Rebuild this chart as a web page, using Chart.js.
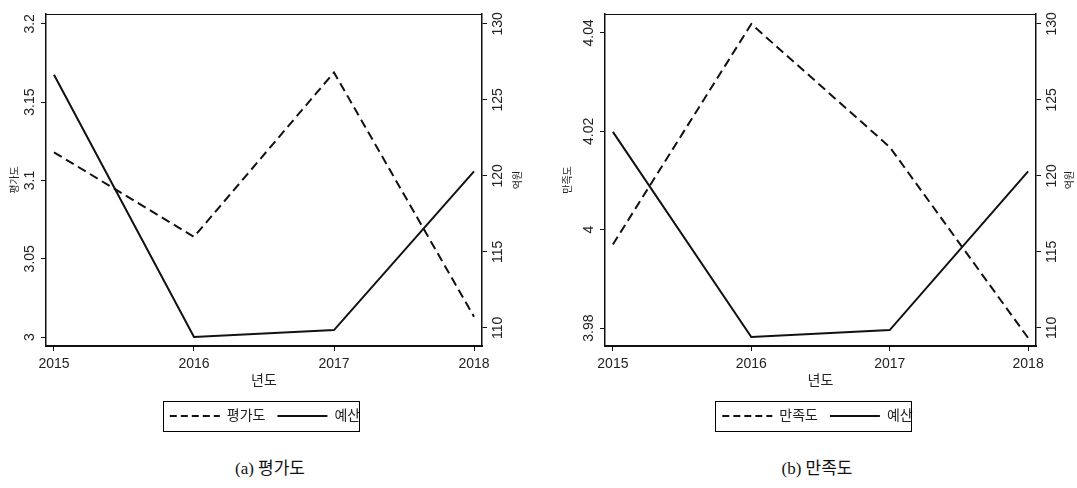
<!DOCTYPE html>
<html>
<head>
<meta charset="utf-8">
<script src="https://cdn.jsdelivr.net/npm/chart.js@4.4.1/dist/chart.umd.min.js"></script>
<style>
  html, body { margin: 0; padding: 0; background: #fff; }
  body { width: 1077px; height: 488px; position: relative; overflow: hidden; }
  canvas { position: absolute; top: 0; }
  .cap { position: absolute; top: 454px; width: 220px; text-align: center;
         font: 17px "Liberation Serif", "Noto Sans CJK KR", serif; color: #111; }
</style>
</head>
<body>
<canvas id="chartA" width="540" height="433" style="left:0"></canvas>
<canvas id="chartB" width="537" height="433" style="left:540px"></canvas>
<div class="cap" style="left:160px">(a) 평가도</div>
<div class="cap" style="left:707px">(b) 만족도</div>

<script>
// Years on the horizontal axis
const years = [2015, 2016, 2017, 2018];

// Panel (a): evaluation score and budget (억원)
const evalScore = [3.118, 3.064, 3.169, 3.013];
const budgetA = [126.66, 109.4, 109.86, 120.3];

// Panel (b): satisfaction score and budget (억원)
const satisfaction = [3.997, 4.0418, 4.0168, 3.978];
const budgetB = [122.9, 109.4, 109.86, 120.3];

// Tick values
const evalTicks = [3, 3.05, 3.1, 3.15, 3.2];
const satTicks = [3.98, 4, 4.02, 4.04];
const budgetTicks = [110, 115, 120, 125, 130];

const FONT = "'Liberation Sans', 'Noto Sans CJK KR', sans-serif";
Chart.defaults.font.family = FONT;
Chart.defaults.color = '#222';

const fmt = v => String(Number(v.toFixed(3)));

// Plot-region top edge, right-axis title (read bottom-to-top) and a bordered legend
const framePlugin = {
  id: 'frame',
  afterDraw(chart, args, opts) {
    const { ctx, chartArea: a, legend } = chart;
    ctx.save();
    ctx.strokeStyle = '#111';
    ctx.lineWidth = 1;
    ctx.beginPath();
    ctx.moveTo(Math.round(a.left), Math.round(a.top) + 0.5);
    ctx.lineTo(Math.round(a.right), Math.round(a.top) + 0.5);
    ctx.stroke();

    if (opts.rightTitle) {
      const s = chart.scales.y1;
      ctx.save();
      ctx.translate(s.right - opts.rightTitleOffset, (s.top + s.bottom) / 2);
      ctx.rotate(-Math.PI / 2);
      ctx.font = '10px ' + FONT;
      ctx.fillStyle = '#222';
      ctx.textAlign = 'center';
      ctx.textBaseline = 'middle';
      ctx.fillText(opts.rightTitle, 0, 0);
      ctx.restore();
    }

    const hb = legend.legendHitBoxes;
    if (hb && hb.length) {
      const l = Math.min(...hb.map(b => b.left));
      const r = Math.max(...hb.map(b => b.left + b.width));
      const t = hb[0].top;
      const h = hb[0].height;
      ctx.strokeStyle = '#000';
      ctx.lineWidth = 1;
      ctx.strokeRect(Math.round(l - 7) + 0.5, Math.round(t - 8) + 0.5, Math.round(r - l + 6), Math.round(h + 16));
    }
    ctx.restore();
  }
};

function fixedSize(w, h) {
  return s => {
    if (w !== null) s.width = w;
    if (h !== null) s.height = h;
    s.paddingTop = 0; s.paddingBottom = 0; s.paddingLeft = 0; s.paddingRight = 0;
  };
}

// Legend samples: short dashes for the score series, solid for the budget
function legendLabels(chart) {
  return Chart.defaults.plugins.legend.labels.generateLabels(chart).map((item, i) => ({
    ...item,
    lineDash: (chart.data.datasets[i].borderDash || []).length ? [7, 4] : [],
    lineWidth: 2,
    strokeStyle: '#111',
    fillStyle: '#111'
  }));
}

function makePanel(id, p) {
  const pts = vals => years.map((x, i) => ({ x, y: vals[i] }));
  return new Chart(document.getElementById(id), {
    type: 'line',
    data: {
      datasets: [
        { label: p.scoreLabel, data: pts(p.score), yAxisID: 'y',
          borderColor: '#111', borderWidth: 2, borderDash: [9, 5],
          pointRadius: 0, tension: 0, fill: false },
        { label: '예산', data: pts(p.budget), yAxisID: 'y1',
          borderColor: '#111', borderWidth: 2,
          pointRadius: 0, tension: 0, fill: false }
      ]
    },
    options: {
      responsive: false,
      animation: false,
      devicePixelRatio: 1,
      layout: { padding: { top: 14, left: p.padLeft, right: p.padRight, bottom: 0 } },
      plugins: {
        tooltip: { enabled: false },
        frame: { rightTitle: '억원', rightTitleOffset: p.rightTitleOffset },
        legend: {
          position: 'bottom',
          labels: {
            usePointStyle: true, pointStyle: 'line', pointStyleWidth: 50,
            font: { size: 14 }, color: '#222', padding: 12,
            generateLabels: legendLabels
          }
        }
      },
      scales: {
        x: {
          type: 'linear', position: 'bottom',
          min: 2014.943, max: 2018.057,
          afterBuildTicks: s => { s.ticks = years.map(v => ({ value: v })); },
          afterFit: fixedSize(null, 51),
          ticks: { callback: v => String(v), font: { size: 14 }, color: '#222',
                   padding: 5, maxRotation: 0, autoSkip: false },
          grid: { drawOnChartArea: false, drawTicks: true, tickLength: 5, color: '#111', lineWidth: 1 },
          border: { display: true, color: '#111', width: 2 },
          title: { display: true, text: '년도', font: { size: 14 }, color: '#222',
                   padding: { top: 0, bottom: 7 } }
        },
        y: {
          position: 'left',
          min: p.scoreMin, max: p.scoreMax,
          afterBuildTicks: s => { s.ticks = p.scoreTicks.map(v => ({ value: v })); },
          afterFit: fixedSize(p.leftWidth, null),
          ticks: { callback: v => fmt(v), font: { size: 14 }, color: '#222',
                   minRotation: 90, maxRotation: 90, crossAlign: 'center',
                   padding: -2.6, autoSkip: false },
          grid: { drawOnChartArea: false, drawTicks: true, tickLength: 5, color: '#111', lineWidth: 1 },
          border: { display: true, color: '#111', width: 1.5 },
          title: { display: true, text: p.scoreLabel, font: { size: 10 }, color: '#222',
                   padding: { top: p.leftTitlePad, bottom: 0 } }
        },
        y1: {
          position: 'right',
          min: 108.81, max: 130.654,
          afterBuildTicks: s => { s.ticks = budgetTicks.map(v => ({ value: v })); },
          afterFit: fixedSize(p.rightWidth, null),
          ticks: { callback: v => fmt(v), font: { size: 14 }, color: '#222',
                   minRotation: 90, maxRotation: 90, crossAlign: 'center',
                   padding: -0.7, autoSkip: false },
          grid: { drawOnChartArea: false, drawTicks: true, tickLength: 5, color: '#111', lineWidth: 1 },
          border: { display: true, color: '#111', width: 1.5 },
          title: { display: false }
        }
      }
    },
    plugins: [framePlugin]
  });
}

makePanel('chartA', {
  scoreLabel: '평가도', score: evalScore, budget: budgetA,
  scoreTicks: evalTicks, scoreMin: 2.9943, scoreMax: 3.2063,
  padLeft: 0, padRight: 10, leftWidth: 46, rightWidth: 48,
  leftTitlePad: 9, rightTitleOffset: 12
});

makePanel('chartB', {
  scoreLabel: '만족도', score: satisfaction, budget: budgetB,
  scoreTicks: satTicks, scoreMin: 3.97636, scoreMax: 4.04384,
  padLeft: 18, padRight: 0, leftWidth: 47, rightWidth: 41,
  leftTitlePad: 4, rightTitleOffset: 7
});
</script>
</body>
</html>
